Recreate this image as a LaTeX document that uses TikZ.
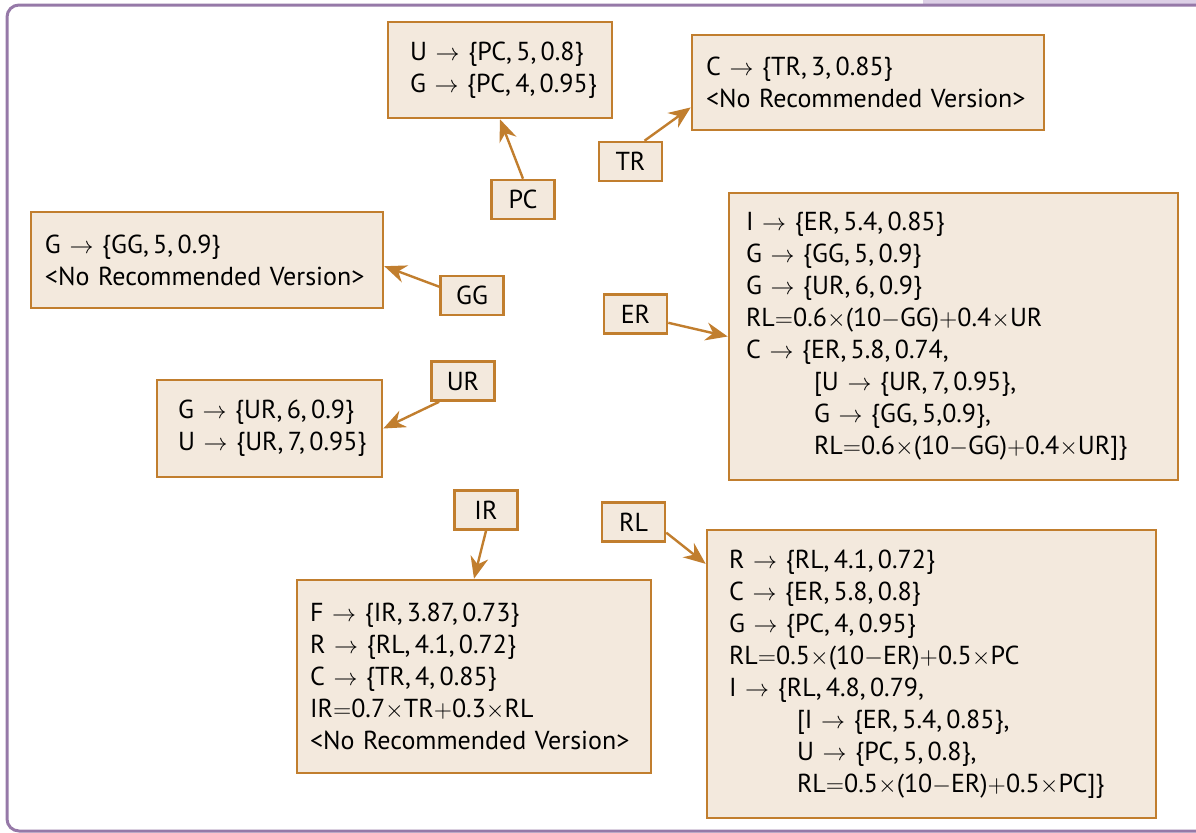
\documentclass[tikz,border=0pt]{standalone}
\usepackage{fontspec}
\setmainfont{PT Sans}
\usepackage{tikz}
\usetikzlibrary{arrows.meta}
\definecolor{frame}{HTML}{9679A8}
\definecolor{tab}{HTML}{DDD0E6}
\definecolor{paper}{HTML}{F3E9DD}
\definecolor{rust}{HTML}{C17E2E}
\newcommand{\goes}{~$\rightarrow$~}
\newcommand{\mult}{$\times$}
\newcommand{\eqs}{$=$}
\newcommand{\mns}{$-$}
\newcommand{\pls}{$+$}
\newcommand{\cm}{,\,}
\newcommand{\ind}{\hspace*{34pt}}

\begin{document}
\begin{tikzpicture}[x=.5pt,y=-.5pt,>={Stealth[length=11pt,width=9pt]},
  every node/.style={font=\fontsize{13}{16}\selectfont},
  lbl/.style={draw=rust,fill=paper,line width=1.3pt,minimum width=31.5pt,minimum height=19.5pt,inner sep=0pt},
  info/.style={draw=rust,fill=paper,line width=1.3pt,align=left,inner ysep=0pt},
  link/.style={rust,line width=1.2pt,->}]
\useasboundingbox (0,0) rectangle (1196,832);
\clip (0,0) rectangle (1196,832);
% frame
\fill[tab] (923,0) rectangle (1196,4);
\draw[frame,line width=1.5pt,rounded corners=6pt] (7,5) rectangle (1215,831);
% boxes
\node[info,text width=90pt,inner xsep=11pt,minimum height=48pt] (pcbox) at (500,70)
  {U\goes\{PC\cm5\cm0.8\}\\G\goes\{PC\cm4\cm0.95\}};
\node[info,text width=162pt,inner xsep=7pt,minimum height=47.5pt] (trbox) at (868,82.5)
  {C\goes\{TR\cm3\cm0.85\}\\<No~Recommended~Version>};
\node[info,text width=162pt,inner xsep=7pt,minimum height=48pt] (ggbox) at (207,260)
  {G\goes\{GG\cm5\cm0.9\}\\<No~Recommended~Version>};
\node[info,text width=91.5pt,inner xsep=10.5pt,minimum height=48.5pt] (urbox) at (269.5,428.5)
  {G\goes\{UR\cm6\cm0.9\}\\U\goes\{UR\cm7\cm0.95\}};
\node[info,text width=207.5pt,inner xsep=8.5pt,minimum height=143.5pt] (erbox) at (953.5,336.5)
  {I\goes\{ER\cm5.4\cm0.85\}\\
   G\goes\{GG\cm5\cm0.9\}\\
   G\goes\{UR\cm6\cm0.9\}\\
   RL\eqs0.6\mult(10\mns GG)\pls0.4\mult UR\\
   C\goes\{ER\cm5.8\cm0.74,\\
   \ind[U\goes\{UR\cm7\cm0.95\},\\
   \ind G\goes\{GG\cm5,0.9\},\\
   \ind RL\eqs0.6\mult(10\mns GG)\pls0.4\mult UR]\}};
\node[info,text width=164pt,inner xsep=6.5pt,minimum height=96.5pt] (irbox) at (474,676.5)
  {F\goes\{IR\cm3.87\cm0.73\}\\
   R\goes\{RL\cm4.1\cm0.72\}\\
   C\goes\{TR\cm4\cm0.85\}\\
   IR\eqs0.7\mult TR\pls0.3\mult RL\\
   <No~Recommended~Version>};
\node[info,text width=202.5pt,inner xsep=11pt,minimum height=144pt] (rlbox) at (931.5,674)
  {R\goes\{RL\cm4.1\cm0.72\}\\
   C\goes\{ER\cm5.8\cm0.8\}\\
   G\goes\{PC\cm4\cm0.95\}\\
   RL\eqs0.5\mult(10\mns ER)\pls0.5\mult PC\\
   I\goes\{RL\cm4.8\cm0.79,\\
   \ind[I\goes\{ER\cm5.4\cm0.85\},\\
   \ind U\goes\{PC\cm5\cm0.8\},\\
   \ind RL\eqs0.5\mult(10\mns ER)\pls0.5\mult PC]\}};
% labels
\node[lbl] (pcl) at (523,199.5) {PC};
\node[lbl] (trl) at (630.5,161.5) {TR};
\node[lbl] (ggl) at (472,295.5) {GG};
\node[lbl] (erl) at (635.5,314) {ER};
\node[lbl] (url) at (463,381) {UR};
\node[lbl] (irl) at (486,510) {IR};
\node[lbl] (rll) at (633.5,522) {RL};
% links
\draw[link] (pcl.north) -- (pcbox.south);
\draw[link] (trl.56) -- (trbox.188);
\draw[link] (ggl.165) -- (ggbox.-2);
\draw[link] (erl.-15) -- (erbox.west);
\draw[link] (url.221) -- (urbox.east);
\draw[link] (irl.south) -- (irbox.north);
\draw[link] (rll.-18) -- (rlbox.154);
\end{tikzpicture}
\end{document}
